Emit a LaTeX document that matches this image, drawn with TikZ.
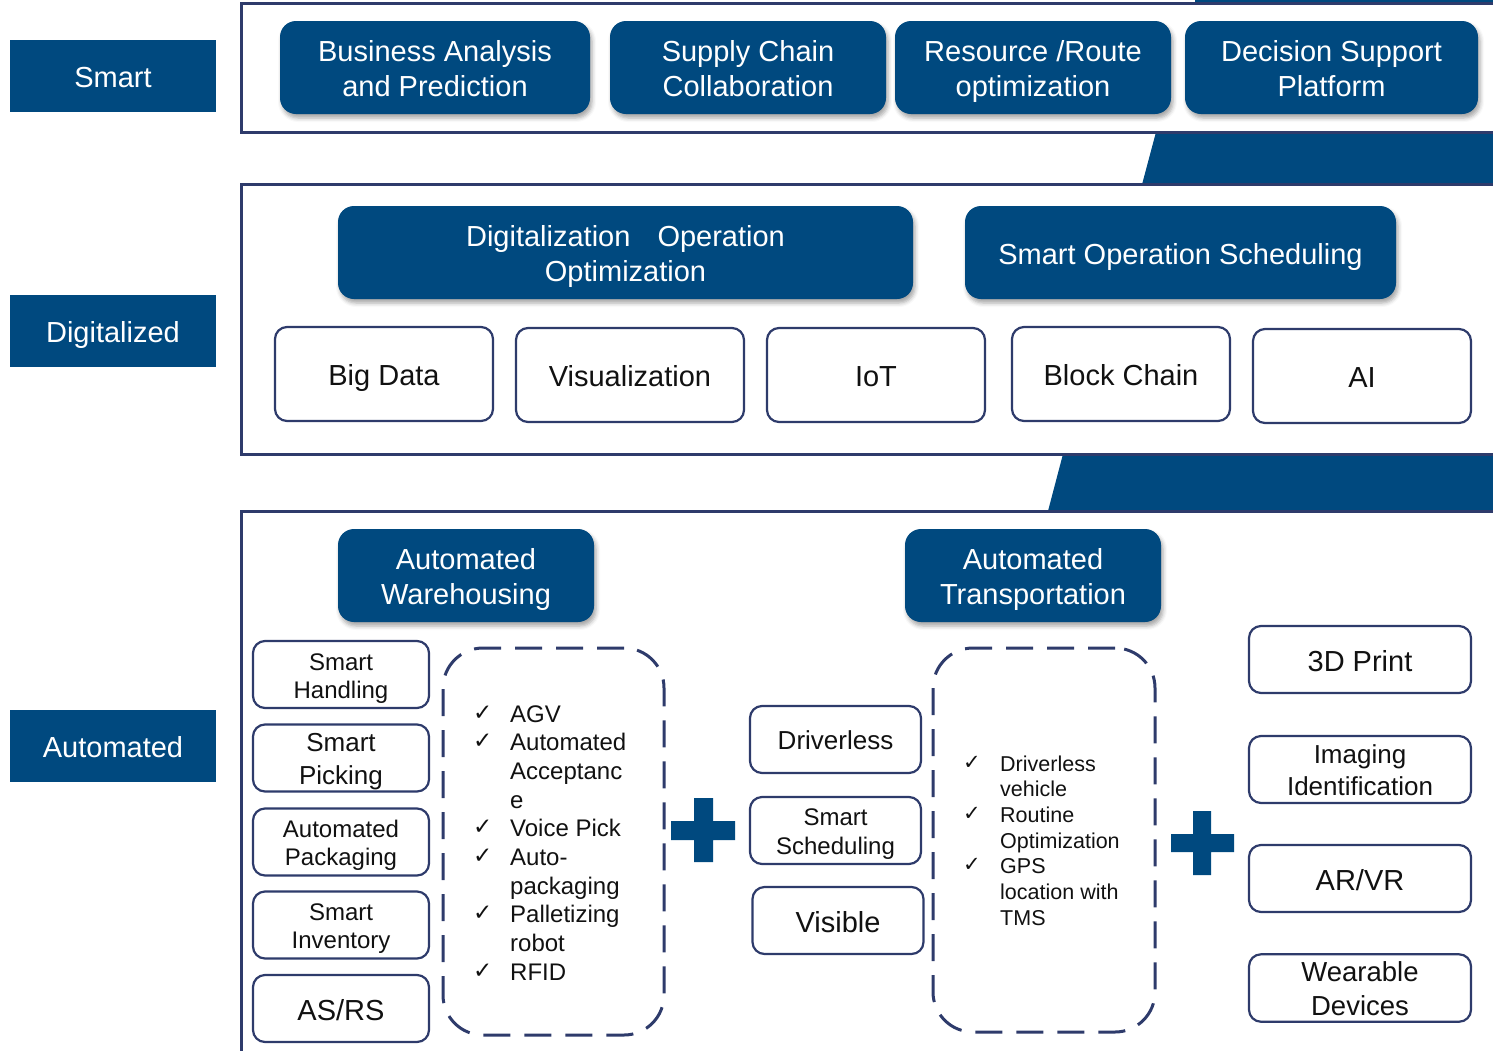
\documentclass[tikz,border=0pt]{standalone}
\usepackage{fontspec}
\setmainfont{Liberation Sans}
\newfontfamily\symfont{DejaVu Sans}
\usepackage{tikz}
\usetikzlibrary{shadows.blur}
\definecolor{cnavy}{HTML}{00497F}
\definecolor{cline}{HTML}{2E3B6B}
\definecolor{cink}{HTML}{111111}
\newcommand{\fsz}[2]{\fontsize{#1}{#2}\selectfont}
\newcommand{\lstrut}{\rule[-0.212em]{0pt}{1.217em}}
\newcommand{\ml}[2]{\rule{0pt}{1.005em}#1\\#2\rule[-0.212em]{0pt}{0.212em}}
\tikzset{
  txtc/.style={execute at begin node=\lstrut,execute at end node=\lstrut},
  lbl/.style={fill=cnavy,text=white,inner sep=0pt,minimum width=206pt,minimum height=72pt,txtc},
  dbox/.style={fill=cnavy,text=white,rounded corners=16pt,align=center,inner sep=0pt,txtc,
    blur shadow={shadow xshift=2pt,shadow yshift=-4pt,shadow blur radius=4pt,shadow opacity=35}},
  wbox/.style={draw=cline,line width=2.2pt,fill=white,text=cink,rounded corners=12pt,align=center,inner sep=0pt,txtc},
  frm/.style={draw=cline,line width=3pt},
  dsh/.style={draw=cline,line width=3pt,dash pattern=on 27pt off 14pt,rounded corners=40pt},
  sz/.style 2 args={minimum width=#1,minimum height=#2},
  chk/.style={anchor=base west,font=\symfont\fsz{23}{25},text=cink,inner sep=0pt},
  itm/.style={anchor=base west,text=cink,inner sep=0pt}
}

\begin{document}
\begin{tikzpicture}[x=1pt,y=-1pt,font=\fsz{29}{35}]
\useasboundingbox (0,0) rectangle (1493,1050);
% bands between the layers
\fill[cnavy] (1195,-2) -- (1500,-2) -- (1500,3.5) -- (1195,3.5) -- cycle;
\fill[cnavy] (1156,132) -- (1500,132) -- (1500,184.5) -- (1142,184.5) -- cycle;
\fill[cnavy] (1063,454) -- (1500,454) -- (1500,511) -- (1048,511) -- cycle;
\draw[frm] (241,3.5) rectangle (1510,132);
\draw[frm] (241,184.5) rectangle (1510,454);
\draw[frm] (241,1070) -- (241,511) -- (1510,511);

% layer labels
\foreach \nm/\y/\lab in {smart/75.5/Smart, digit/331/Digitalized, autom/746/Automated}
  \node[lbl] (\nm) at (113,\y) {\lab};

% smart layer
\node[dbox,sz={310pt}{93pt}] (bap) at (435,67.5) {\ml{Business Analysis}{and Prediction}};
\node[dbox,sz={276pt}{93pt}] (scc) at (748,67.5) {\ml{Supply Chain}{Collaboration}};
\node[dbox,sz={276pt}{93pt}] (rro) at (1033,67.5) {\ml{Resource /Route}{optimization}};
\node[dbox,sz={293pt}{93pt}] (dsp) at (1331.5,67.5) {\ml{Decision Support}{Platform}};

% digitalized layer
\node[dbox,sz={575pt}{93pt}] (doo) at (625.5,252.5) {\ml{Digitalization\hspace{19pt} Operation}{Optimization}};
\node[dbox,sz={431pt}{93pt}] (sos) at (1180.5,252.5) {Smart Operation Scheduling};
\foreach \nm/\x/\y/\w/\txt in {bigd/384/374/218/Big Data, visu/630/375/228/Visualization,
    iot/876/375/218/IoT, bchn/1121/374/218/Block Chain, ai/1362/376/218/AI}
  \node[wbox,sz={\w pt}{94pt}] (\nm) at (\x,\y) {\txt};

% automated layer
\node[dbox,sz={256pt}{93pt}] (awh) at (466,575.5) {\ml{Automated}{Warehousing}};
\node[dbox,sz={256pt}{93pt}] (atr) at (1033,575.5) {\ml{Automated}{Transportation}};

\foreach \nm/\y/\s/\b/\txt in {shdl/674.5/24/28/{\ml{Smart}{Handling}}, spck/758/26/33/{\ml{Smart}{Picking}},
    apck/842/24/28/{\ml{Automated}{Packaging}}, sinv/925/24/28/{\ml{Smart}{Inventory}}, asrs/1008.5/29/35/{AS/RS}}
  \node[wbox,sz={176pt}{67pt},font=\fsz{\s}{\b}] (\nm) at (341,\y) {\txt};

\foreach \nm/\x/\y/\s/\b/\txt in {drvl/835.5/739.5/26/31/{Driverless}, ssch/835.5/830.5/24/29/{\ml{Smart}{Scheduling}},
    visb/838/920.5/29/35/{Visible}}
  \node[wbox,sz={171pt}{67pt},font=\fsz{\s}{\b}] (\nm) at (\x,\y) {\txt};

\foreach \nm/\y/\s/\b/\txt in {tdpr/659.5/29/35/{3D Print}, imgi/769.5/26/32/{\ml{Imaging}{Identification}},
    arvr/878.5/29/35/{AR/VR}, wear/988/27.5/34/{\ml{Wearable}{Devices}}}
  \node[wbox,sz={222pt}{67pt},font=\fsz{\s}{\b}] (\nm) at (1360,\y) {\txt};

% check lists
\node[dsh,sz={221pt}{387pt}] (wlist) at (553.5,841.5) {};
\node[dsh,sz={222pt}{384pt}] (tlist) at (1044,840) {};
\foreach \t [count=\i] in {AGV,Automated,Acceptanc,e,Voice Pick,Auto-,packaging,Palletizing,robot,RFID}
  \node[itm,font=\fsz{24}{29}] (wi\i) at (510,{722+(\i-1)*28.7}) {\t};
\foreach \i in {1,2,5,6,8,10}
  \node[chk] (wc\i) at (473,{720+(\i-1)*28.7}) {✓};
\foreach \t [count=\i] in {Driverless,vehicle,Routine,Optimization,GPS,location with,TMS}
  \node[itm,font=\fsz{21.5}{26}] (ti\i) at (1000,{771+(\i-1)*25.7}) {\t};
\foreach \i in {1,3,5}
  \node[chk,font=\symfont\fsz{21}{23}] (tc\i) at (963,{769+(\i-1)*25.7}) {✓};

% plus signs
\fill[cnavy] (671,821) rectangle (735,840) (694,798) rectangle (713,862);
\fill[cnavy] (1171,834) rectangle (1234,852) (1193,811) rectangle (1211,875);
\end{tikzpicture}
\end{document}
